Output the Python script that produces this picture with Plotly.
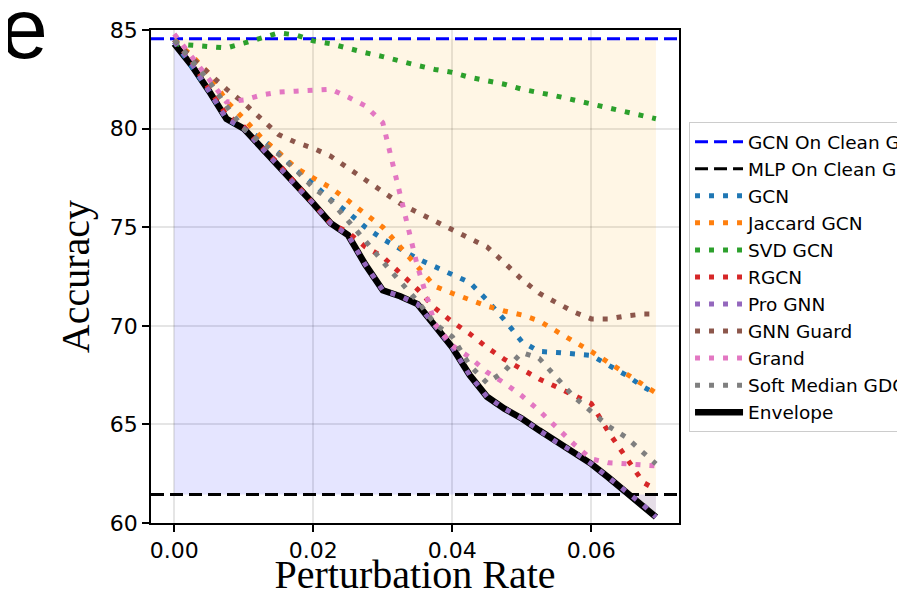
import numpy as np
import plotly.graph_objects as go

# ---------------- data ----------------
rate = [0, 0.0025, 0.005, 0.0075, 0.01, 0.0125, 0.015, 0.0175, 0.02, 0.0225,
        0.025, 0.0275, 0.03, 0.0325, 0.035, 0.0375, 0.04, 0.0425, 0.045, 0.0475,
        0.05, 0.0525, 0.055, 0.0575, 0.06, 0.0625, 0.065, 0.0675, 0.0693]

gcn = [84.4, 83.2, 81.9, 80.5, 80.0, 79.5, 78.8, 77.9, 77.2, 76.4, 75.75, 75.0, 74.4, 73.9,
       73.4, 73.0, 72.6, 72.2, 71.3, 70.3, 69.2, 68.7, 68.65, 68.6, 68.5, 68.0, 67.5, 66.9, 66.55]
jaccard_gcn = [84.5, 83.7, 82.8, 81.4, 80.5, 79.55, 78.8, 78.0, 77.5, 77.0, 76.35, 75.7, 75.0, 74.0,
               73.0, 72.0, 71.65, 71.3, 71.0, 70.75, 70.55, 70.25, 69.7, 69.2, 68.7, 68.15, 67.6, 67.05, 66.6]
svd_gcn = [84.3, 84.24, 84.14, 84.09, 84.33, 84.58, 84.85, 84.75, 84.45, 84.3, 84.05, 83.85, 83.65, 83.4,
           83.2, 83.0, 82.85, 82.6, 82.45, 82.25, 82.0, 81.85, 81.65, 81.45, 81.25, 81.0, 80.8, 80.6, 80.5]
rgcn = [84.5, 83.4, 82.0, 80.7, 80.1, 79.1, 78.2, 77.2, 76.2, 75.2, 74.75, 74.0, 73.5, 72.7,
        71.85, 70.9, 70.2, 69.6, 68.9, 68.3, 67.8, 67.3, 66.9, 66.5, 66.05, 64.6, 63.3, 62.05, 61.7]
pro_gnn = [84.4, 83.3, 81.9, 80.5, 80.0, 79.07, 78.1, 77.1, 76.2, 75.2, 74.6, 73.1, 71.8, 71.5,
           71.1, 70.0, 68.9, 67.5, 66.4, 65.8, 65.3, 64.7, 64.1, 63.6, 63.0, 62.3, 61.6, 60.9, 60.3]
gnn_guard = [84.5, 83.6, 82.8, 82.0, 81.3, 80.5, 79.7, 79.3, 79.0, 78.6, 78.0, 77.4, 76.8, 76.2,
             75.75, 75.3, 74.85, 74.4, 74.0, 73.2, 72.35, 71.65, 71.2, 70.7, 70.35, 70.35, 70.5, 70.6, 70.6]
grand = [84.8, 83.6, 82.5, 81.35, 81.45, 81.7, 81.85, 81.9, 81.95, 82.0, 81.6, 81.15, 80.3, 76.6,
         73.0, 70.1, 69.0, 68.4, 67.65, 67.1, 66.45, 65.7, 64.85, 64.0, 63.25, 63.05, 63.0, 62.95, 62.9]
soft_median_gdc = [84.5, 83.4, 82.4, 81.15, 80.0, 79.3, 78.7, 77.9, 77.0, 76.35, 75.35, 74.3, 73.25, 72.25,
                   71.25, 70.1, 69.45, 68.0, 67.1, 67.7, 68.65, 68.35, 67.4, 66.4, 65.65, 64.9, 64.35, 63.6, 63.0]

gcn_clean = 84.55
mlp_clean = 61.45

series_names = ["GCN", "Jaccard GCN", "SVD GCN", "RGCN", "Pro GNN", "GNN Guard", "Grand", "Soft Median GDC"]
series_values = [gcn, jaccard_gcn, svd_gcn, rgcn, pro_gnn, gnn_guard, grand, soft_median_gdc]
series_colors = ["#1f77b4", "#ff7f0e", "#2ca02c", "#d62728", "#9467bd", "#8c564b", "#e377c2", "#7f7f7f"]

x_ticks = [0, 0.02, 0.04, 0.06]
y_ticks = [60, 65, 70, 75, 80, 85]
x_range = [-0.00335, 0.07262]
y_range = [60, 85]

envelope = np.min(np.array(series_values), axis=0)
n = len(rate)

# ---------------- figure ----------------
fig = go.Figure()

# orange band between envelope and GCN-on-clean line
fig.add_trace(go.Scatter(x=rate, y=[gcn_clean] * n, mode="lines", line=dict(width=0),
                         showlegend=False, hoverinfo="skip"))
fig.add_trace(go.Scatter(x=rate, y=envelope, mode="lines", line=dict(width=0),
                         fill="tonexty", fillcolor="rgba(255,165,0,0.1)",
                         showlegend=False, hoverinfo="skip"))
# blue band between MLP line and envelope
fig.add_trace(go.Scatter(x=rate, y=[mlp_clean] * n, mode="lines", line=dict(width=0),
                         showlegend=False, hoverinfo="skip"))
fig.add_trace(go.Scatter(x=rate, y=envelope, mode="lines", line=dict(width=0),
                         fill="tonexty", fillcolor="rgba(0,0,255,0.1)",
                         showlegend=False, hoverinfo="skip"))

# reference lines spanning whole axis
fig.add_trace(go.Scatter(x=x_range, y=[gcn_clean, gcn_clean], mode="lines",
                         name="GCN On Clean Graph", legendrank=1,
                         line=dict(color="#0000ff", width=3, dash="13px,6px")))
fig.add_trace(go.Scatter(x=x_range, y=[mlp_clean, mlp_clean], mode="lines",
                         name="MLP On Clean Graph", legendrank=2,
                         line=dict(color="#000000", width=3, dash="13px,6px")))

# envelope drawn below the series
fig.add_trace(go.Scatter(x=rate, y=envelope, mode="lines", name="Envelope", legendrank=20,
                         line=dict(color="#000000", width=6.5)))

for i, (nm, vals, col) in enumerate(zip(series_names, series_values, series_colors)):
    fig.add_trace(go.Scatter(x=rate, y=vals, mode="lines", name=nm, legendrank=3 + i,
                             line=dict(color=col, width=5, dash="5px,9px")))

axis_common = dict(
    showline=True, mirror=True, linecolor="black", linewidth=1.5,
    ticks="outside", ticklen=7, tickwidth=1.5, tickcolor="black",
    showgrid=True, gridcolor="rgba(0,0,0,0.1)", gridwidth=2, zeroline=False,
    tickfont=dict(family="DejaVu Sans", size=22, color="black"),
)

fig.update_xaxes(range=x_range, tickvals=x_ticks, tickformat=".2f",
                 title=dict(text="Perturbation Rate",
                            font=dict(family="Liberation Serif", size=40, color="black"),
                            standoff=9),
                 **axis_common)
fig.update_yaxes(range=y_range, tickvals=y_ticks,
                 title=dict(text="Accuracy",
                            font=dict(family="Liberation Serif", size=40, color="black"),
                            standoff=8),
                 **axis_common)

# page has an 8px body margin: figure coordinates = page coordinates - 8
L, T, PW, PH = 143, 22, 528, 493
fig.add_annotation(text="e", xref="paper", yref="paper",
                   x=(16 - L) / PW, y=(T + PH - 20) / PH,
                   xanchor="center", yanchor="middle", showarrow=False,
                   font=dict(family="Liberation Sans", size=86, color="black"))

fig.update_layout(
    width=897, height=589,
    margin=dict(l=L, r=897 - L - PW, t=T, b=589 - T - PH, autoexpand=False),
    plot_bgcolor="white", paper_bgcolor="white",
    legend=dict(x=1.019, y=0.813, xanchor="left", yanchor="top",
                bgcolor="rgba(255,255,255,0.8)", bordercolor="#cccccc", borderwidth=1,
                font=dict(family="DejaVu Sans", size=18.5, color="black"),
                itemwidth=48, traceorder="normal"),
    showlegend=True,
)

fig.write_html("out.html")
